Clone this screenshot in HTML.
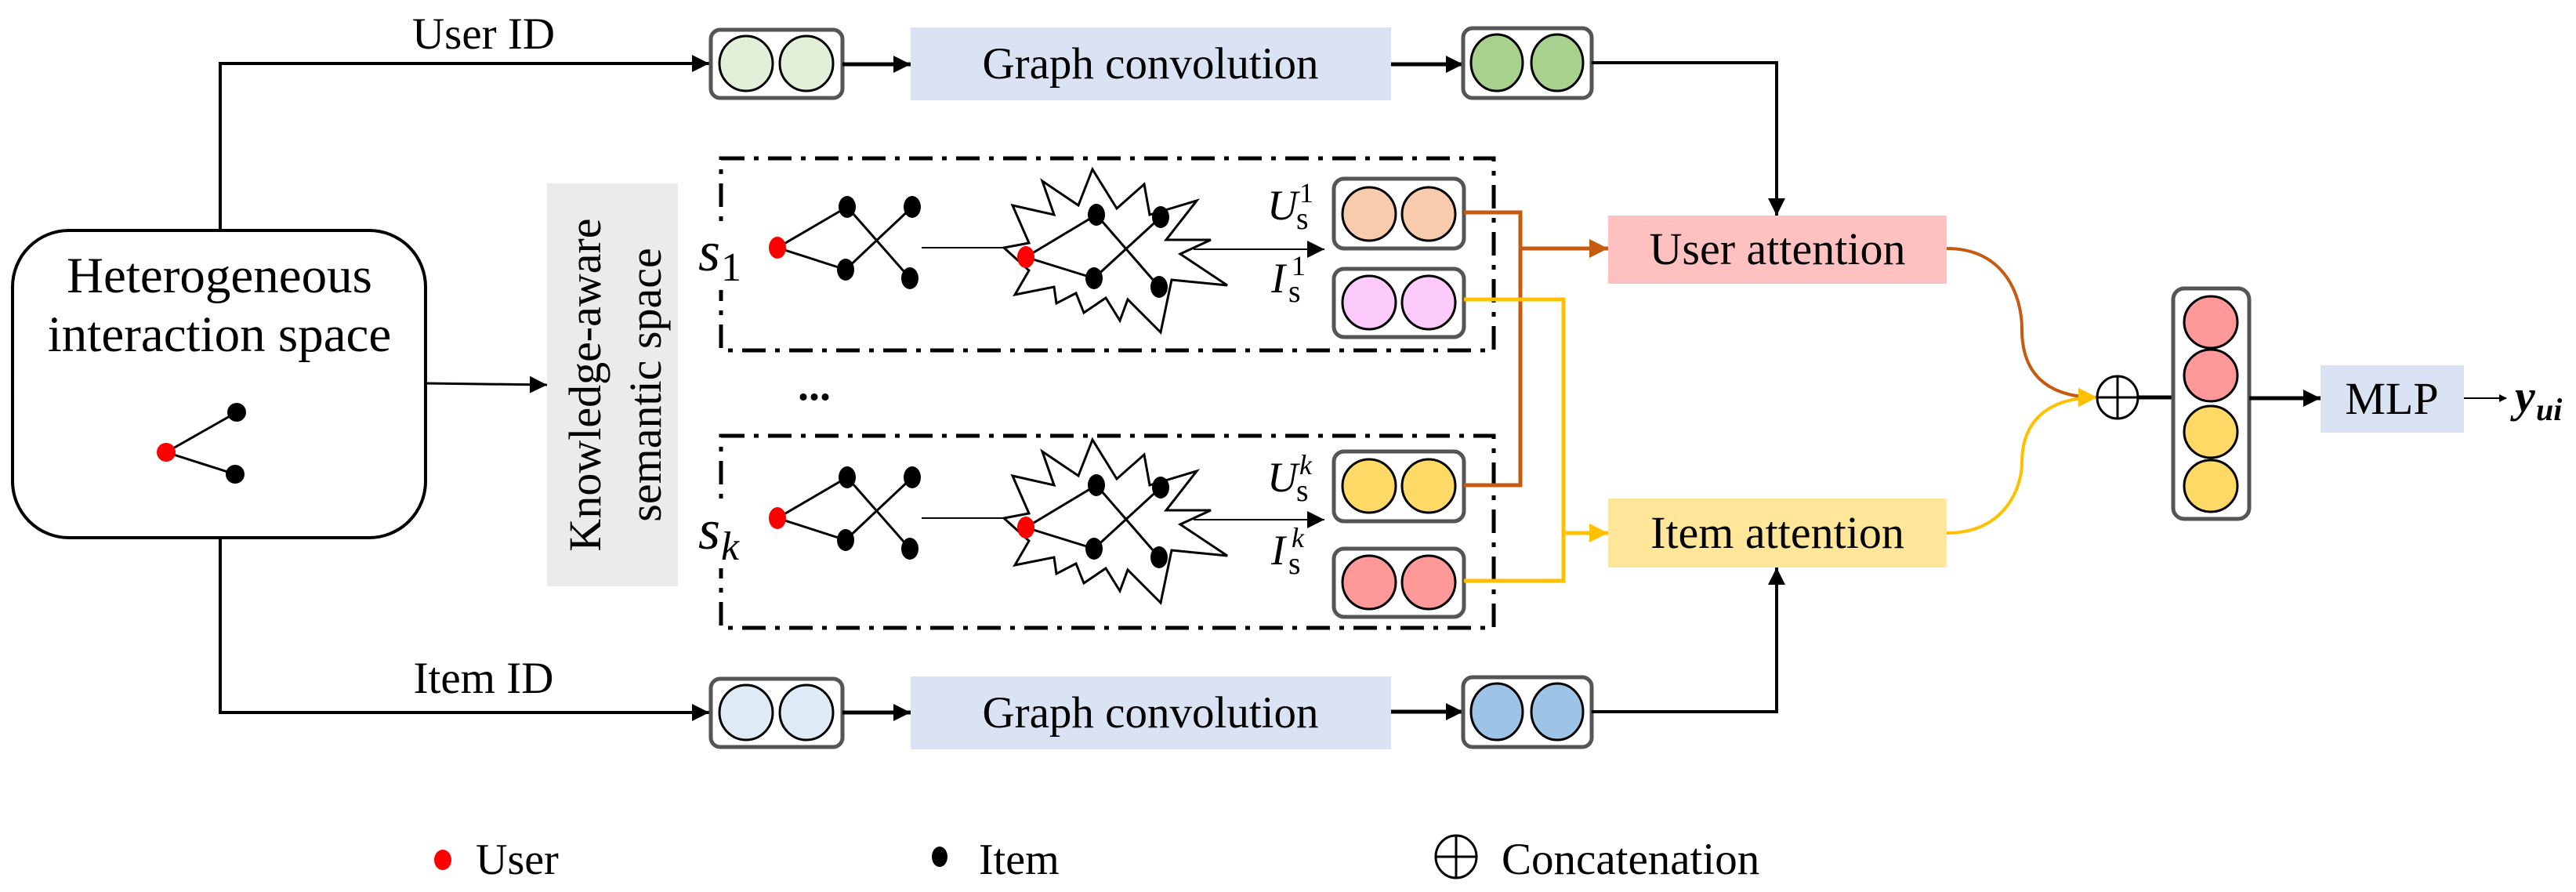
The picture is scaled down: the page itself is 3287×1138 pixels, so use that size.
<!DOCTYPE html>
<html><head><meta charset="utf-8"><style>
html,body{margin:0;padding:0;background:#fff;}
svg{display:block;font-family:"Liberation Serif","Times New Roman",serif;}
svg text{font-family:"Liberation Serif","Times New Roman",serif;fill:#000;}
</style></head><body>
<svg width="3287" height="1138" viewBox="0 0 3287 1138" xmlns="http://www.w3.org/2000/svg" font-family="Liberation Serif, serif">
<defs>
<marker id="ab" markerWidth="10" markerHeight="10" refX="9" refY="5" orient="auto" markerUnits="userSpaceOnUse" viewBox="0 0 10 10"><path d="M0,0 L10,5 L0,10 z" fill="#000"/></marker>
<marker id="a" viewBox="0 0 10 10" refX="10" refY="5" markerWidth="22" markerHeight="22" markerUnits="userSpaceOnUse" orient="auto"><path d="M0,0 L10,5 L0,10 z" fill="#000"/></marker>
<marker id="ao" viewBox="0 0 10 10" refX="10" refY="5" markerWidth="24" markerHeight="24" markerUnits="userSpaceOnUse" orient="auto"><path d="M0,0 L10,5 L0,10 z" fill="#c55a11"/></marker>
<marker id="ay" viewBox="0 0 10 10" refX="10" refY="5" markerWidth="24" markerHeight="24" markerUnits="userSpaceOnUse" orient="auto"><path d="M0,0 L10,5 L0,10 z" fill="#ffc000"/></marker>
<g id="graph">
  <line x1="992" y1="316" x2="1081" y2="264" stroke="#000" stroke-width="3"/>
  <line x1="992" y1="316" x2="1079" y2="344" stroke="#000" stroke-width="3"/>
  <line x1="1081" y1="264" x2="1161" y2="355" stroke="#000" stroke-width="3"/>
  <line x1="1164" y1="264" x2="1079" y2="344" stroke="#000" stroke-width="3"/>
  <ellipse cx="992" cy="316" rx="11" ry="14" fill="#f00"/>
  <ellipse cx="1081" cy="264" rx="11" ry="14" fill="#000"/>
  <ellipse cx="1079" cy="344" rx="11" ry="14" fill="#000"/>
  <ellipse cx="1164" cy="264" rx="11" ry="14" fill="#000"/>
  <ellipse cx="1161" cy="355" rx="11" ry="14" fill="#000"/>
  <line x1="1176" y1="316" x2="1290" y2="316" stroke="#000" stroke-width="2"/>
  <polygon points="1394,216 1425,266 1460,235 1467,274 1527,256 1488,306 1545,306 1506,324 1566,364 1495,357 1481,424 1439,382 1429,409 1411,380 1383,399 1373,374 1348,387 1345,366 1295,376 1313,345 1281,316 1313,310 1292,262 1345,274 1330,231 1376,262" fill="#fff" stroke="#000" stroke-width="3" stroke-linejoin="miter"/>
  <line x1="1309" y1="328" x2="1399" y2="274" stroke="#000" stroke-width="3"/>
  <line x1="1309" y1="328" x2="1396" y2="355" stroke="#000" stroke-width="3"/>
  <line x1="1399" y1="274" x2="1479" y2="366" stroke="#000" stroke-width="3"/>
  <line x1="1481" y1="277" x2="1396" y2="355" stroke="#000" stroke-width="3"/>
  <ellipse cx="1309" cy="328" rx="11" ry="14" fill="#f00"/>
  <ellipse cx="1399" cy="274" rx="11" ry="14" fill="#000"/>
  <ellipse cx="1481" cy="277" rx="11" ry="14" fill="#000"/>
  <ellipse cx="1396" cy="355" rx="11" ry="14" fill="#000"/>
  <ellipse cx="1479" cy="366" rx="11" ry="14" fill="#000"/>
  <line x1="1523" y1="318" x2="1690" y2="318" stroke="#000" stroke-width="2" marker-end="url(#a)"/>
</g>
</defs>

<!-- left heterogeneous box -->
<polyline points="281,294 281,81 905,81" fill="none" stroke="#000" stroke-width="4" marker-end="url(#a)"/>
<polyline points="281,686 281,909 905,909" fill="none" stroke="#000" stroke-width="4" marker-end="url(#a)"/>
<rect x="16" y="294" width="527" height="392" rx="72" fill="#fff" stroke="#000" stroke-width="4"/>
<text x="280" y="373" font-size="65" text-anchor="middle">Heterogeneous</text>
<text x="280" y="448" font-size="65" text-anchor="middle">interaction space</text>
<line x1="212" y1="577" x2="302" y2="526" stroke="#000" stroke-width="3"/>
<line x1="212" y1="577" x2="300" y2="605" stroke="#000" stroke-width="3"/>
<circle cx="212" cy="577" r="12" fill="#f00"/>
<circle cx="302" cy="526" r="12" fill="#000"/>
<circle cx="300" cy="605" r="12" fill="#000"/>
<text x="617" y="62" font-size="57" text-anchor="middle">User ID</text>
<text x="617" y="884" font-size="57" text-anchor="middle">Item ID</text>
<line x1="543" y1="489" x2="698" y2="491" stroke="#000" stroke-width="3" marker-end="url(#a)"/>

<!-- knowledge box -->
<rect x="698" y="234" width="167" height="514" fill="#ebebeb"/>
<text transform="translate(766,491) rotate(-90)" font-size="58" text-anchor="middle">Knowledge-aware</text>
<text transform="translate(843,491) rotate(-90)" font-size="58" text-anchor="middle">semantic space</text>

<!-- top row -->
<rect x="907" y="38" width="168" height="87" rx="12" fill="#fff" stroke="#555" stroke-width="5"/>
<ellipse cx="952" cy="81" rx="34" ry="35" fill="#e2f0d9" stroke="#000" stroke-width="3"/>
<ellipse cx="1029" cy="81" rx="34" ry="35" fill="#e2f0d9" stroke="#000" stroke-width="3"/>
<line x1="1075" y1="82" x2="1162" y2="82" stroke="#000" stroke-width="5" marker-end="url(#a)"/>
<rect x="1162" y="35" width="613" height="93" fill="#dae3f3"/>
<text x="1468" y="100" font-size="57" text-anchor="middle">Graph convolution</text>
<line x1="1775" y1="82" x2="1867" y2="82" stroke="#000" stroke-width="5" marker-end="url(#a)"/>
<rect x="1867" y="36" width="164" height="89" rx="12" fill="#fff" stroke="#555" stroke-width="5"/>
<ellipse cx="1910" cy="80" rx="33" ry="36" fill="#a9d18e" stroke="#000" stroke-width="3"/>
<ellipse cx="1987" cy="80" rx="33" ry="36" fill="#a9d18e" stroke="#000" stroke-width="3"/>
<polyline points="2031,80 2267,80 2267,275" fill="none" stroke="#000" stroke-width="4" marker-end="url(#a)"/>

<!-- bottom row -->
<rect x="907" y="866" width="168" height="87" rx="12" fill="#fff" stroke="#555" stroke-width="5"/>
<ellipse cx="952" cy="909" rx="34" ry="35" fill="#deebf7" stroke="#000" stroke-width="3"/>
<ellipse cx="1029" cy="909" rx="34" ry="35" fill="#deebf7" stroke="#000" stroke-width="3"/>
<line x1="1075" y1="909" x2="1162" y2="909" stroke="#000" stroke-width="5" marker-end="url(#a)"/>
<rect x="1162" y="863" width="613" height="93" fill="#dae3f3"/>
<text x="1468" y="928" font-size="57" text-anchor="middle">Graph convolution</text>
<line x1="1775" y1="908" x2="1867" y2="908" stroke="#000" stroke-width="5" marker-end="url(#a)"/>
<rect x="1867" y="864" width="164" height="89" rx="12" fill="#fff" stroke="#555" stroke-width="5"/>
<ellipse cx="1910" cy="908" rx="33" ry="36" fill="#9dc3e6" stroke="#000" stroke-width="3"/>
<ellipse cx="1987" cy="908" rx="33" ry="36" fill="#9dc3e6" stroke="#000" stroke-width="3"/>
<polyline points="2031,908 2267,908 2267,724" fill="none" stroke="#000" stroke-width="4" marker-end="url(#a)"/>

<!-- dashed boxes -->
<rect x="920" y="202" width="986" height="245" fill="none" stroke="#000" stroke-width="5" stroke-dasharray="30 12 6 12"/>
<rect x="920" y="556" width="986" height="245" fill="none" stroke="#000" stroke-width="5" stroke-dasharray="30 12 6 12"/>
<use href="#graph"/>
<use href="#graph" transform="translate(0,345)"/>
<rect x="888" y="290" width="58" height="80" fill="#fff"/>
<rect x="888" y="645" width="58" height="80" fill="#fff"/>
<text x="891" y="345" font-size="72" font-style="italic">s</text><text x="920" y="358" font-size="52">1</text>
<text x="891" y="700" font-size="72" font-style="italic">s</text><text x="920" y="714" font-size="52" font-style="italic">k</text>
<text x="1018" y="510" font-size="56" font-weight="bold">...</text>

<!-- labels -->
<text x="1617" y="280" font-size="54" font-style="italic">U</text><text x="1658" y="258" font-size="36">1</text><text x="1654" y="292" font-size="40">s</text>
<text x="1622" y="373" font-size="54" font-style="italic">I</text><text x="1648" y="351" font-size="36">1</text><text x="1644" y="385" font-size="40">s</text>
<text x="1617" y="627" font-size="54" font-style="italic">U</text><text x="1658" y="605" font-size="36" font-style="italic">k</text><text x="1654" y="639" font-size="40">s</text>
<text x="1622" y="720" font-size="54" font-style="italic">I</text><text x="1648" y="698" font-size="36" font-style="italic">k</text><text x="1644" y="732" font-size="40">s</text>

<!-- embedding boxes in semantic spaces -->
<rect x="1702" y="228" width="166" height="89" rx="13" fill="#fff" stroke="#555" stroke-width="5"/>
<circle cx="1747" cy="273" r="34" fill="#f8cbad" stroke="#000" stroke-width="3"/>
<circle cx="1823" cy="273" r="34" fill="#f8cbad" stroke="#000" stroke-width="3"/>
<rect x="1702" y="343" width="166" height="87" rx="13" fill="#fff" stroke="#555" stroke-width="5"/>
<circle cx="1747" cy="386" r="34" fill="#fccbfc" stroke="#000" stroke-width="3"/>
<circle cx="1823" cy="386" r="34" fill="#fccbfc" stroke="#000" stroke-width="3"/>
<rect x="1702" y="576" width="166" height="89" rx="13" fill="#fff" stroke="#555" stroke-width="5"/>
<circle cx="1747" cy="620" r="34" fill="#ffd966" stroke="#000" stroke-width="3"/>
<circle cx="1823" cy="620" r="34" fill="#ffd966" stroke="#000" stroke-width="3"/>
<rect x="1702" y="700" width="166" height="87" rx="13" fill="#fff" stroke="#555" stroke-width="5"/>
<circle cx="1747" cy="743" r="34" fill="#ff9999" stroke="#000" stroke-width="3"/>
<circle cx="1823" cy="743" r="34" fill="#ff9999" stroke="#000" stroke-width="3"/>

<!-- colored connectors -->
<polyline points="1868,271 1940,271 1940,619 1868,619" fill="none" stroke="#c55a11" stroke-width="5"/>
<line x1="1938" y1="317" x2="2052" y2="317" stroke="#c55a11" stroke-width="5" marker-end="url(#ao)"/>
<polyline points="1868,382 1995,382 1995,741 1868,741" fill="none" stroke="#ffc000" stroke-width="5"/>
<line x1="1995" y1="680" x2="2052" y2="680" stroke="#ffc000" stroke-width="5" marker-end="url(#ay)"/>

<!-- attention boxes -->
<rect x="2052" y="275" width="432" height="87" fill="#ffc0c0"/>
<text x="2268" y="337" font-size="58" text-anchor="middle">User attention</text>
<rect x="2052" y="636" width="432" height="88" fill="#ffe699"/>
<text x="2268" y="699" font-size="58" text-anchor="middle">Item attention</text>

<path d="M2484,317 C2560,317 2580,380 2580,420 C2580,475 2610,507 2676,507" fill="none" stroke="#c55a11" stroke-width="4" marker-end="url(#ao)"/>
<path d="M2484,680 C2560,680 2580,620 2580,590 C2580,540 2610,507 2676,507" fill="none" stroke="#ffc000" stroke-width="4" marker-end="url(#ay)"/>

<!-- oplus -->
<ellipse cx="2702" cy="507" rx="26" ry="27" fill="#fff" stroke="#000" stroke-width="3"/>
<line x1="2676" y1="507" x2="2728" y2="507" stroke="#000" stroke-width="3"/>
<line x1="2702" y1="480" x2="2702" y2="534" stroke="#000" stroke-width="3"/>
<line x1="2728" y1="507" x2="2773" y2="507" stroke="#000" stroke-width="5"/>

<rect x="2773" y="368" width="97" height="294" rx="14" fill="#fff" stroke="#555" stroke-width="5"/>
<ellipse cx="2821" cy="411" rx="34" ry="33" fill="#ff9999" stroke="#000" stroke-width="3"/>
<ellipse cx="2821" cy="479" rx="34" ry="33" fill="#ff9999" stroke="#000" stroke-width="3"/>
<ellipse cx="2821" cy="551" rx="34" ry="33" fill="#ffd966" stroke="#000" stroke-width="3"/>
<ellipse cx="2821" cy="620" rx="34" ry="33" fill="#ffd966" stroke="#000" stroke-width="3"/>
<line x1="2870" y1="508" x2="2961" y2="508" stroke="#000" stroke-width="5" marker-end="url(#a)"/>
<rect x="2961" y="466" width="183" height="86" fill="#dae3f3"/>
<text x="3052" y="528" font-size="58" text-anchor="middle">MLP</text>
<line x1="3144" y1="508" x2="3198" y2="508" stroke="#000" stroke-width="2" marker-end="url(#ab)"/>
<text x="3209" y="525" font-size="58" font-style="italic" font-weight="bold">y</text><text x="3236" y="536" font-size="40" font-style="italic" font-weight="bold">ui</text>

<!-- legend -->
<ellipse cx="565" cy="1097" rx="11" ry="13" fill="#f00"/>
<text x="607" y="1115" font-size="56">User</text>
<ellipse cx="1199" cy="1093" rx="10" ry="13" fill="#000"/>
<text x="1249" y="1115" font-size="56">Item</text>
<ellipse cx="1858" cy="1093" rx="26" ry="27" fill="none" stroke="#000" stroke-width="3"/>
<line x1="1832" y1="1093" x2="1884" y2="1093" stroke="#000" stroke-width="3"/>
<line x1="1858" y1="1066" x2="1858" y2="1120" stroke="#000" stroke-width="3"/>
<text x="1916" y="1115" font-size="57">Concatenation</text>
</svg>
</body></html>
